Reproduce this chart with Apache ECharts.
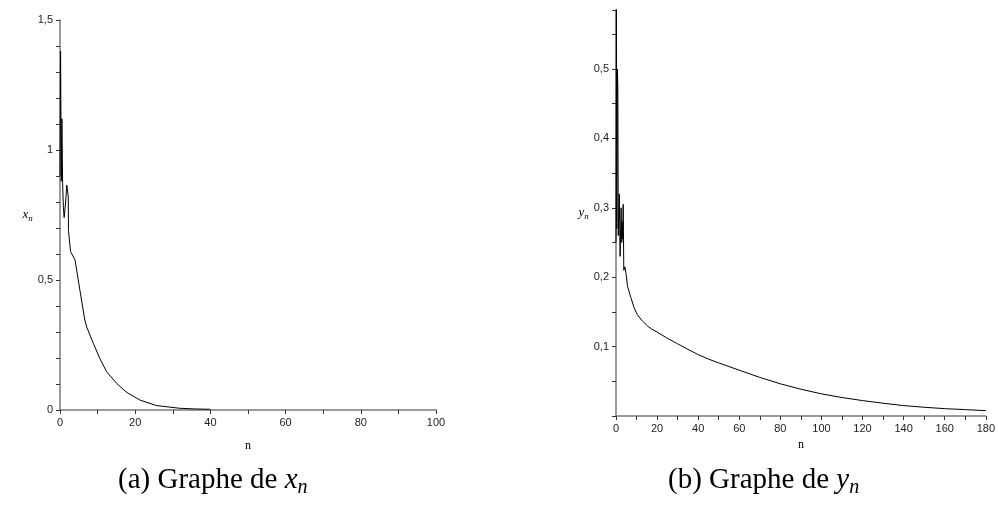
<!DOCTYPE html>
<html>
<head>
<meta charset="utf-8">
<script src="https://cdn.jsdelivr.net/npm/echarts@6/dist/echarts.min.js"></script>
<style>
  html, body { margin: 0; padding: 0; background: #fff; }
  #chart { width: 998px; height: 515px; }
</style>
</head>
<body>
<div id="chart"></div>
<script>
// graphe (a) : x_n
var nA = [0, 0.15, 0.35, 0.5, 0.7, 0.9, 1.1, 1.5, 1.8, 2.2, 2.25, 2.8, 3.1, 4.0, 5.3, 6.6, 7.1, 8.9, 10.6, 12.4, 15.1, 17.7, 21.3, 25.7, 31.9, 36, 40];
var xA = [0.9, 1.38, 0.88, 1.12, 0.87, 0.78, 0.74, 0.8, 0.865, 0.82, 0.69, 0.61, 0.606, 0.577, 0.46, 0.346, 0.319, 0.255, 0.198, 0.147, 0.102, 0.068, 0.038, 0.017, 0.0065, 0.004, 0.0027];

// graphe (b) : y_n
var nB = [0, 0.2, 0.4, 0.7, 0.9, 1.1, 1.6, 2.0, 2.5, 2.8, 3.0, 3.3, 3.5, 3.8, 4.3, 4.8, 5.6, 7.2, 8.8, 10.4, 12.8, 15.2, 17.5, 20, 25, 30, 35, 40, 45, 50, 60, 70, 80, 90, 100, 110, 120, 130, 140, 150, 160, 170, 180];
var yB = [0.25, 0.62, 0.27, 0.5, 0.47, 0.26, 0.32, 0.23, 0.3, 0.25, 0.28, 0.255, 0.305, 0.21, 0.215, 0.207, 0.187, 0.171, 0.156, 0.146, 0.137, 0.13, 0.125, 0.121, 0.112, 0.104, 0.096, 0.0885, 0.082, 0.0765, 0.066, 0.0556, 0.0464, 0.0386, 0.0319, 0.0266, 0.0222, 0.0184, 0.015, 0.0126, 0.0106, 0.0092, 0.0077];

function zip(a, b) {
  var out = [];
  for (var i = 0; i < a.length; i++) out.push([a[i], b[i]]);
  return out;
}

var chart = echarts.init(document.getElementById("chart"));

var lblFont = '"Liberation Sans"';
function commaFmt(v) {
  return String(+v.toFixed(2)).replace(".", ",");
}

function xAxisCfg(idx, max, gap) {
  return {
    gridIndex: idx,
    type: "value",
    min: 0,
    max: max,
    interval: 20,
    name: "n",
    nameLocation: "middle",
    nameGap: gap,
    nameTextStyle: { fontFamily: '"Liberation Serif"', fontSize: 12, color: "#000" },
    axisLine: { lineStyle: { color: "#7a7a7a", width: 1.5 } },
    axisTick: { length: 4, lineStyle: { color: "#333" } },
    minorTick: { show: true, splitNumber: 2, length: 4, lineStyle: { color: "#333" } },
    splitLine: { show: false },
    axisLabel: { fontFamily: lblFont, fontSize: 11, color: "#222", margin: 7 }
  };
}

function yName() {
  return {
    rich: {
      v: { fontFamily: '"Liberation Serif"', fontStyle: "italic", fontSize: 13, color: "#000" },
      s: { fontFamily: '"Liberation Serif"', fontStyle: "italic", fontSize: 9, color: "#000", padding: [8, 0, 0, 0] }
    }
  };
}

function caption(txt, x) {
  return {
    type: "text",
    left: x,
    top: 466,
    style: {
      text: txt,
      font: '29px "Liberation Serif"',
      fill: "#000",
      rich: {
        v: { fontFamily: '"Liberation Serif"', fontStyle: "italic", fontSize: 29 },
        s: { fontFamily: '"Liberation Serif"', fontStyle: "italic", fontSize: 20, padding: [15, 0, 0, 0] }
      }
    }
  };
}

var option = {
  animation: false,
  backgroundColor: "#fff",
  grid: [
    { left: 60, top: 20, width: 376, height: 390 },
    { left: 616, top: 10, width: 374, height: 406 }
  ],
  xAxis: [xAxisCfg(0, 100, 30), xAxisCfg(1, 180, 23)],
  yAxis: [
    {
      gridIndex: 0,
      type: "value",
      min: 0,
      max: 1.5,
      interval: 0.5,
      name: "{v|x}{s|n}",
      nameLocation: "middle",
      nameRotate: 0,
      nameGap: 26,
      nameTextStyle: yName(),
      axisLine: { show: true, lineStyle: { color: "#7a7a7a", width: 1.5 } },
      axisTick: { show: true, length: 4, lineStyle: { color: "#333" } },
      minorTick: { show: true, splitNumber: 5, length: 4, lineStyle: { color: "#333" } },
      splitLine: { show: false },
      axisLabel: { fontFamily: lblFont, fontSize: 11, color: "#222", margin: 7, formatter: commaFmt }
    },
    {
      gridIndex: 1,
      type: "value",
      min: 0,
      max: 0.585,
      interval: 0.1,
      name: "{v|y}{s|n}",
      nameLocation: "middle",
      nameRotate: 0,
      nameGap: 26,
      nameTextStyle: yName(),
      axisLine: { show: true, lineStyle: { color: "#7a7a7a", width: 1.5 } },
      axisTick: { show: true, length: 4, lineStyle: { color: "#333" } },
      minorTick: { show: true, splitNumber: 2, length: 4, lineStyle: { color: "#333" } },
      splitLine: { show: false },
      axisLabel: {
        fontFamily: lblFont, fontSize: 11, color: "#222", margin: 7,
        showMinLabel: false, showMaxLabel: false,
        formatter: function (v) { return v === 0 ? "" : commaFmt(v); }
      }
    }
  ],
  series: [
    {
      type: "line",
      xAxisIndex: 0,
      yAxisIndex: 0,
      data: zip(nA, xA),
      showSymbol: false,
      lineStyle: { color: "#000", width: 1 },
      clip: true
    },
    {
      type: "line",
      xAxisIndex: 1,
      yAxisIndex: 1,
      data: zip(nB, yB),
      showSymbol: false,
      lineStyle: { color: "#000", width: 1 },
      clip: true
    }
  ],
  graphic: [
    caption("(a) Graphe de {v|x}{s|n}", 118),
    caption("(b) Graphe de {v|y}{s|n}", 668)
  ]
};

chart.setOption(option);
</script>
</body>
</html>
